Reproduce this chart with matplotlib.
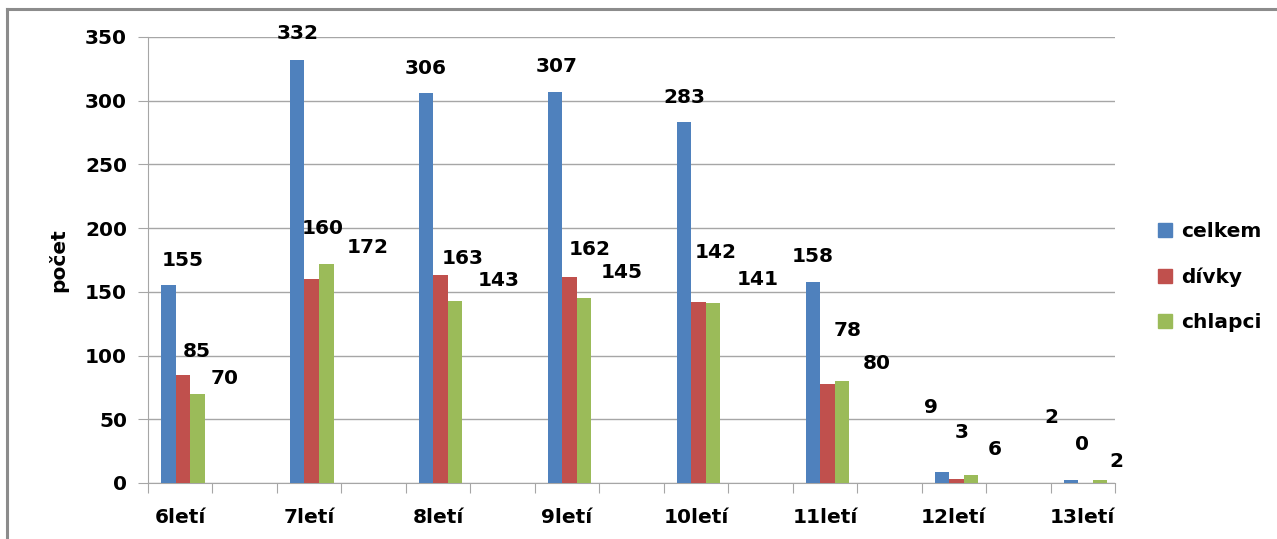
import matplotlib.pyplot as plt
from matplotlib.lines import Line2D

# data
categories = ['6letí', '7letí', '8letí', '9letí', '10letí', '11letí', '12letí', '13letí']
celkem = [155, 332, 306, 307, 283, 158, 9, 2]
divky = [85, 160, 163, 162, 142, 78, 3, 0]
chlapci = [70, 172, 143, 145, 141, 80, 6, 2]
series_names = ['celkem', 'dívky', 'chlapci']

# label offsets in pixels (Excel placed them a bit irregularly)
off_celkem = [(14, 25), (0, 26), (0, 25), (2, 25), (0, 25), (0, 25), (-11, 64), (-19, 63)]
off_divky = [(14, 23), (11, 51), (22, 17), (20, 27), (17, 50), (20, 53), (5, 47), (-3, 39)]
off_chlapci = [(27, 15), (41, 16), (44, 20), (38, 26), (45, 24), (35, 18), (24, 26), (17, 19)]

colors = ['#4f81bd', '#c0504d', '#9bbb59']
fs = 14.5

plt.rcParams['font.family'] = 'DejaVu Sans'
plt.rcParams['font.weight'] = 'bold'

fig = plt.figure(figsize=(12.77, 5.39), dpi=100)
ax = fig.add_axes([148 / 1277, 1 - 483 / 539, (1115 - 148) / 1277, (483 - 37) / 539])

# each category sits on every other slot, empty slot in between
xs = [2 * i for i in range(len(categories))]
w = 0.225
all_series = [celkem, divky, chlapci]
all_offsets = [off_celkem, off_divky, off_chlapci]
for k, (vals, offs) in enumerate(zip(all_series, all_offsets)):
    pos = [x + (k - 1) * w + 0.04 for x in xs]
    ax.bar(pos, vals, width=w, color=colors[k], zorder=3)
    for p, v, o in zip(pos, vals, offs):
        ax.annotate(str(v), (p, v), xytext=o, textcoords='offset pixels',
                    ha='center', va='center', fontsize=fs, fontweight='bold',
                    annotation_clip=False)

ax.set_xlim(-0.5, 2 * len(categories) - 1.5)
ax.set_ylim(0, 350)
ax.set_yticks(range(0, 351, 50))
ax.yaxis.grid(True, color='#a6a6a6', linewidth=1)
ax.set_axisbelow(True)

ax.set_xticks([x - 0.5 for x in range(2 * len(categories))])
ax.set_xticklabels([])
ax.set_xticks(xs, minor=True)
ax.set_xticklabels(categories, minor=True)
ax.tick_params(axis='x', which='major', length=7, color='#a6a6a6', direction='out')
ax.tick_params(axis='x', which='minor', length=0, pad=18, labelsize=fs)
ax.tick_params(axis='y', length=7, color='#a6a6a6', labelsize=fs, pad=8)

for s in ['top', 'right']:
    ax.spines[s].set_visible(False)
ax.spines['left'].set_color('#a6a6a6')
ax.spines['bottom'].set_color('#a6a6a6')

ax.set_ylabel('počet', fontsize=fs, fontweight='bold', labelpad=12)

handles = [plt.Rectangle((0, 0), 1, 1, color=c) for c in colors]
fig.legend(handles, series_names, loc='center left', bbox_to_anchor=(1140 / 1277, 1 - 277 / 539),
           frameon=False, fontsize=fs, handlelength=0.7, handleheight=0.7,
           labelspacing=1.3, handletextpad=0.45)

# chart frame (left and top edge)
fig.add_artist(Line2D([7 / 1277, 7 / 1277], [0, 1 - 9 / 539], color='#8c8c8c', linewidth=2.2,
                      transform=fig.transFigure))
fig.add_artist(Line2D([7 / 1277, 1], [1 - 9 / 539, 1 - 9 / 539], color='#8c8c8c', linewidth=2.2,
                      transform=fig.transFigure))

fig.savefig('out.png', dpi=100, facecolor='white')
